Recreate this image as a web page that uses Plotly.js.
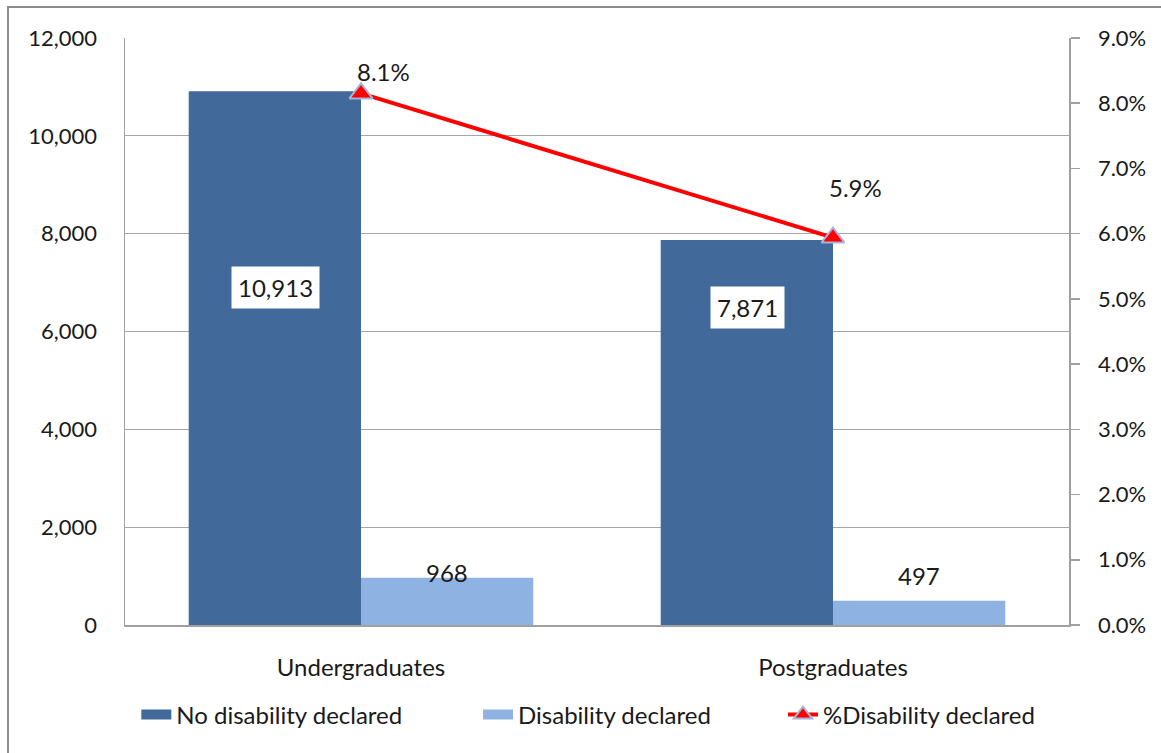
<!DOCTYPE html>
<html>
<head>
<meta charset="utf-8">
<script src="https://cdn.plot.ly/plotly-3.0.1.min.js"></script>
<style>
  html, body { margin: 0; padding: 0; background: #fff; }
  #frame { position: absolute; left: 7px; top: 6px; width: 1200px; height: 800px; border: 2px solid #8c8c8c; box-sizing: border-box; }
  #chart { position: absolute; left: 0; top: 0; width: 1161px; height: 753px; }
</style>
</head>
<body>
<div id="frame"></div>
<div id="chart"></div>
<script>
const categories = ["Undergraduates", "Postgraduates"];
const noDisability = [10913, 7871];
const disability = [968, 497];
const pctDisability = [8.15, 5.94];
const pctLabels = ["8.1%", "5.9%"];
const leftTicks = [0, 2000, 4000, 6000, 8000, 10000, 12000];
const rightTicks = [0, 1, 2, 3, 4, 5, 6, 7, 8, 9];

const FONT = "Lato, 'Open Sans', sans-serif";
const fmt = v => v.toLocaleString("en-US");
const DARK = "#41699a", LIGHT = "#8eb3e2";

const traces = [
  {
    type: "bar", name: "No disability declared", x: categories, y: noDisability,
    marker: { color: DARK }, hoverinfo: "skip", showlegend: false
  },
  {
    type: "bar", name: "Disability declared", x: categories, y: disability,
    marker: { color: LIGHT }, hoverinfo: "skip", showlegend: false
  },
  {
    type: "scatter", mode: "lines+markers", name: "%Disability declared",
    x: categories, y: pctDisability, yaxis: "y2",
    line: { color: "#ff0000", width: 4 },
    marker: { symbol: "triangle-up", size: 20, color: "#ff0000", line: { color: "#a3b6d6", width: 2 } },
    hoverinfo: "skip", legend: "legend3"
  },
  {
    type: "scatter", mode: "lines", name: "No disability declared", x: [categories[0]], y: [null],
    line: { color: DARK, width: 18 }, hoverinfo: "skip", legend: "legend"
  },
  {
    type: "scatter", mode: "lines", name: "Disability declared", x: [categories[0]], y: [null],
    line: { color: LIGHT, width: 18 }, hoverinfo: "skip", legend: "legend2"
  }
];

const annotations = [];
const bigShift = [-196, -68];
categories.forEach((c, i) => {
  annotations.push({
    x: c, y: noDisability[i], xref: "x", yref: "y", xshift: -86, yshift: bigShift[i],
    text: fmt(noDisability[i]), showarrow: false, bgcolor: "#ffffff", borderpad: 6,
    font: { family: FONT, size: 24, color: "#1a1a1a" }
  });
});
const smallShift = [5, 25];
categories.forEach((c, i) => {
  annotations.push({
    x: c, y: disability[i], xref: "x", yref: "y", xshift: 86, yshift: smallShift[i],
    text: fmt(disability[i]), showarrow: false,
    font: { family: FONT, size: 24, color: "#1a1a1a" }
  });
});
const pctShift = [22, 50];
categories.forEach((c, i) => {
  annotations.push({
    x: c, y: pctDisability[i], xref: "x", yref: "y2", xshift: 22, yshift: pctShift[i],
    text: pctLabels[i], showarrow: false,
    font: { family: FONT, size: 24, color: "#1a1a1a" }
  });
});

const legendBase = {
  orientation: "h", xanchor: "left", y: -0.115, yanchor: "top",
  font: { family: FONT, size: 24, color: "#1a1a1a" }, bgcolor: "rgba(0,0,0,0)"
};

const layout = {
  width: 1161, height: 753,
  margin: { l: 125, r: 92, t: 38, b: 128 },
  paper_bgcolor: "rgba(0,0,0,0)", plot_bgcolor: "#ffffff",
  font: { family: FONT, size: 22, color: "#1a1a1a" },
  barmode: "group", bargap: 0.27, bargroupgap: 0,
  showlegend: true,
  legend: Object.assign({}, legendBase, { x: 0.012 }),
  legend2: Object.assign({}, legendBase, { x: 0.374 }),
  legend3: Object.assign({}, legendBase, { x: 0.697 }),
  xaxis: {
    type: "category", showline: true, linecolor: "#a0a0a0", linewidth: 2,
    ticks: "", tickfont: { family: FONT, size: 24 }, ticklabelstandoff: 20,
    showgrid: false, zeroline: false
  },
  yaxis: {
    range: [0, 12000], tickvals: leftTicks, ticktext: leftTicks.map(fmt),
    showgrid: true, gridcolor: "#a6a6a6", gridwidth: 1.3,
    showline: true, linecolor: "#a0a0a0", linewidth: 1.5,
    ticks: "", ticklabelstandoff: 22, zeroline: false,
    tickfont: { family: FONT, size: 22 }
  },
  yaxis2: {
    overlaying: "y", side: "right", range: [0, 9],
    tickvals: rightTicks, ticktext: rightTicks.map(v => v.toFixed(1) + "%"),
    showgrid: false, zeroline: false,
    showline: true, linecolor: "#a0a0a0", linewidth: 1.5,
    ticks: "outside", ticklen: 9, tickcolor: "#a0a0a0", tickwidth: 1.5,
    ticklabelstandoff: 14,
    tickfont: { family: FONT, size: 22 }
  },
  annotations: annotations
};

Plotly.newPlot("chart", traces, layout, { displayModeBar: false, staticPlot: true });
</script>
</body>
</html>
